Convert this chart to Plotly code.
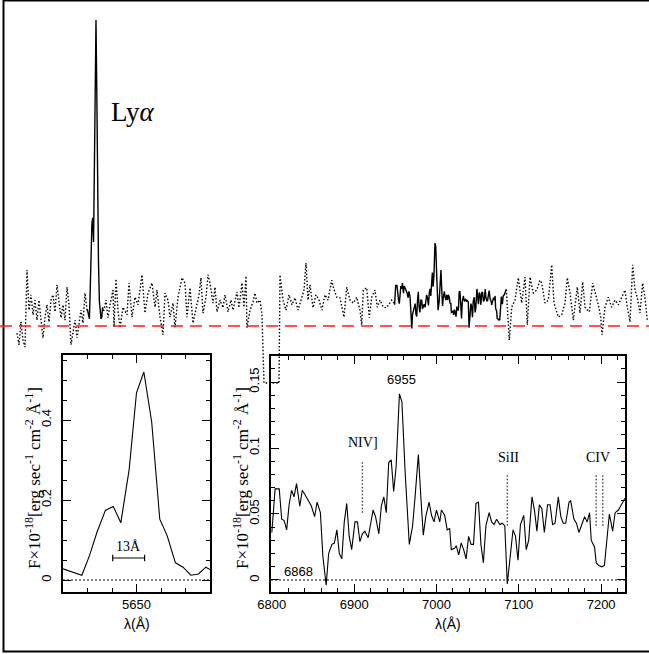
import plotly.graph_objects as go

# ---------------- data ----------------
# Full spectrum (dotted parts), wavelength [A] and flux [1e-18 erg/s/cm2/A]
blue_wl = [5349.6, 5357.3, 5365.0, 5372.6, 5380.3, 5388.0, 5395.7, 5403.4, 5411.1, 5418.7,
           5426.4, 5434.1, 5441.8, 5449.5, 5457.1, 5464.8, 5472.5, 5480.2, 5487.9, 5495.6,
           5503.2, 5510.9, 5518.6, 5526.3, 5534.0, 5541.6, 5549.3, 5557.0, 5564.7, 5572.4,
           5580.1, 5587.7, 5595.4, 5603.1, 5610.8, 5618.5]
blue_fx = [-0.012, -0.032, 0.007, -0.024, -0.036, 0.095, 0.027, 0.053, 0.019, 0.044,
           0.010, 0.044, 0.010, -0.020, 0.014, 0.036, 0.007, 0.044, 0.053, 0.024,
           0.070, 0.044, 0.014, 0.036, 0.010, 0.066, 0.036, -0.032, -0.007, 0.010,
           -0.020, 0.007, 0.027, 0.005, 0.056, 0.027]

mid_wl = [5683.8, 5691.4, 5699.1, 5706.8, 5718.3, 5722.2, 5729.9, 5737.5, 5745.2, 5756.7,
          5772.1, 5779.8, 5791.3, 5802.8, 5814.4, 5829.7, 5841.2, 5852.8, 5868.1, 5879.7,
          5887.3, 5898.9, 5910.4, 5918.0, 5929.6, 5937.3, 5948.8, 5956.5, 5968.0, 5983.4,
          5994.9, 6002.6, 6014.1, 6025.6, 6041.0, 6048.7, 6056.3, 6064.0, 6075.5, 6083.2,
          6090.9, 6102.4, 6110.1, 6117.8, 6129.3, 6140.8, 6148.5, 6160.0, 6171.6, 6179.2,
          6194.6, 6202.3, 6213.8, 6221.5, 6229.2, 6233.0, 6244.6, 6256.1, 6263.8, 6271.4,
          6283.0, 6290.6, 6298.3, 6321.4, 6355.9, 6359.8, 6371.3, 6382.9, 6394.4, 6405.9,
          6417.4, 6429.0, 6440.5, 6452.0, 6459.6, 6467.3, 6475.0, 6486.5, 6498.1, 6509.6,
          6521.1, 6532.6, 6544.2, 6558.3, 6564.5, 6577.6, 6590.2, 6605.6, 6615.9, 6628.7,
          6641.3, 6654.4, 6667.1, 6673.6, 6679.8, 6692.8, 6702.8, 6712.0, 6724.7, 6733.5,
          6743.9, 6756.5, 6769.6, 6788.8, 6797.7]
mid_fx = [0.027, 0.044, 0.014, 0.036, 0.061, -0.002, 0.080, 0.027, -0.003, 0.032,
          0.019, 0.073, 0.015, 0.049, 0.036, 0.087, 0.022, 0.056, 0.073, 0.032,
          0.061, 0.015, -0.015, 0.056, 0.044, 0.015, 0.039, -0.002, 0.049, 0.082,
          0.073, 0.015, 0.065, 0.005, 0.039, 0.053, 0.082, 0.022, 0.049, 0.087,
          0.073, 0.039, 0.066, 0.024, 0.044, 0.031, 0.053, 0.024, 0.044, 0.027,
          0.058, 0.031, 0.073, 0.032, 0.085, -0.003, 0.027, 0.041, 0.056, 0.039,
          0.044, 0.019, -0.097, -0.097, -0.097, 0.087, 0.044, 0.027, 0.053, 0.036,
          0.048, 0.027, 0.044, 0.061, 0.107, 0.044, 0.070, 0.031, 0.053, 0.044,
          0.027, 0.053, 0.044, 0.078, 0.066, 0.049, 0.048, 0.015, 0.066, 0.044,
          0.039, 0.049, 0.027, 0.002, 0.061, 0.065, 0.014, 0.049, 0.061, 0.032,
          0.044, 0.032, 0.031, 0.044, 0.039]

red_wl = [7236.7, 7240.5, 7249.7, 7262.4, 7275.1, 7288.1, 7300.8, 7309.7, 7320.0, 7332.8,
          7345.8, 7358.4, 7365.0, 7377.6, 7390.4, 7403.4, 7412.2, 7428.8, 7441.8, 7454.5,
          7463.3, 7473.7, 7486.4, 7501.7, 7512.1, 7522.4, 7531.3, 7547.8, 7560.8, 7569.7,
          7582.4, 7591.6, 7596.6, 7608.1, 7620.8, 7633.8, 7646.5, 7659.2, 7672.2, 7684.9,
          7693.7, 7704.1, 7714.4, 7723.3, 7732.1, 7742.5, 7752.8, 7761.7, 7770.5]
red_fx = [-0.007, -0.024, 0.032, 0.044, 0.082, 0.039, 0.083, 0.002, 0.083, 0.056,
          0.061, 0.078, 0.073, 0.039, 0.044, 0.104, 0.039, 0.015, 0.019, 0.039,
          0.082, 0.056, 0.010, 0.066, 0.022, 0.075, 0.032, 0.024, 0.073, 0.058,
          0.036, 0.015, -0.015, 0.032, 0.049, 0.032, 0.044, 0.036, 0.049, 0.061,
          0.032, 0.007, 0.104, 0.061, 0.049, 0.022, 0.073, 0.048, 0.010]

# Ly-alpha region (left inset, also solid in top panel)
lya_wl = [5620.0, 5627.7, 5630.8, 5633.9, 5637.3, 5640.5, 5643.6, 5647.0, 5650.0, 5653.0,
          5656.2, 5659.5, 5662.5, 5665.9, 5669.0, 5672.2, 5675.3, 5678.3, 5680.0]
lya_fx = [0.028, 0.012, 0.061, 0.120, 0.174, 0.184, 0.143, 0.276, 0.468, 0.520,
          0.395, 0.152, 0.111, 0.043, 0.032, 0.012, 0.015, 0.032, 0.026]

# 6800-7230 A region (right inset, also solid in top panel)
civ_wl = [6800, 6804, 6809, 6812, 6815, 6818, 6821, 6824, 6827, 6830,
          6834, 6837, 6840, 6844, 6848, 6852, 6855, 6859, 6862, 6866,
          6869, 6873, 6876, 6879, 6882, 6885, 6888, 6891, 6894, 6897,
          6901, 6904, 6907, 6910, 6913, 6917, 6920, 6923, 6926, 6930,
          6933, 6936, 6939, 6942, 6945, 6948, 6951, 6955, 6958, 6962,
          6967, 6971, 6974, 6978, 6981, 6984, 6987, 6991, 6994, 6997,
          7000, 7004, 7006, 7010, 7013, 7016, 7018, 7022, 7024, 7027,
          7030, 7033, 7036, 7039, 7042, 7045, 7048, 7051, 7054, 7057,
          7060, 7064, 7067, 7070, 7073, 7077, 7080, 7083, 7086, 7090,
          7093, 7096, 7099, 7102, 7106, 7109, 7112, 7116, 7119, 7122,
          7125, 7128, 7131, 7135, 7138, 7141, 7144, 7148, 7151, 7154,
          7157, 7161, 7163, 7167, 7170, 7173, 7176, 7180, 7183, 7186,
          7188, 7192, 7194, 7197, 7201, 7204, 7206, 7210, 7214, 7217,
          7221, 7226, 7229]
civ_fx = [0.036, 0.069, 0.069, 0.046, 0.045, 0.038, 0.057, 0.068, 0.063, 0.073,
          0.056, 0.068, 0.065, 0.061, 0.056, 0.048, 0.059, 0.051, 0.018, -0.004,
          0.020, 0.027, 0.028, 0.038, 0.020, 0.016, 0.044, 0.058, 0.033, 0.023,
          0.044, 0.044, 0.029, 0.035, 0.037, 0.032, 0.044, 0.053, 0.048, 0.035,
          0.056, 0.063, 0.051, 0.089, 0.091, 0.067, 0.086, 0.141, 0.135, 0.081,
          0.027, 0.041, 0.063, 0.095, 0.063, 0.034, 0.048, 0.059, 0.049, 0.044,
          0.053, 0.044, 0.053, 0.049, 0.038, 0.039, 0.023, 0.024, 0.026, 0.019,
          0.028, 0.023, 0.016, 0.033, 0.027, 0.027, 0.058, 0.059, 0.027, 0.013,
          0.041, 0.051, 0.044, 0.042, 0.046, 0.042, 0.043, 0.041, -0.003, 0.018,
          0.038, 0.033, 0.015, 0.042, 0.049, 0.023, 0.030, 0.063, 0.053, 0.037,
          0.057, 0.054, 0.036, 0.057, 0.057, 0.042, 0.043, 0.063, 0.048, 0.043,
          0.043, 0.059, 0.060, 0.046, 0.043, 0.036, 0.041, 0.048, 0.044, 0.051,
          0.030, 0.025, 0.013, 0.011, 0.010, 0.011, 0.024, 0.050, 0.037, 0.051,
          0.053, 0.059, 0.062]

# line identifications in right inset
line_names = ["NIV]", "SiII", "CIV"]
line_wl = [[6910], [7086], [7194, 7202]]
line_lo = [0.051, 0.041, 0.041]
line_hi = [0.090, 0.080, 0.080]
label_wl = [6911, 7087, 7196]
label_fx = [0.104, 0.093, 0.093]

BAR_START = 5640.3
BAR_LEN = 13.0
BAR_FX = 0.055

W, H = 649, 654

def px(x):
    return x / W

def py(y):
    return 1 - y / H

# ---------------- figure ----------------
fig = go.Figure()

dot_x = blue_wl + [lya_wl[0], None, lya_wl[-1]] + mid_wl + [civ_wl[0], None, civ_wl[-1]] + red_wl
dot_y = blue_fx + [lya_fx[0], None, lya_fx[-1]] + mid_fx + [civ_fx[0], None, civ_fx[-1]] + red_fx
fig.add_trace(go.Scatter(x=dot_x, y=dot_y, mode="lines", xaxis="x", yaxis="y",
                         line=dict(color="black", width=1.4, dash="1.5px,2px"),
                         connectgaps=False, hoverinfo="skip"))
fig.add_trace(go.Scatter(x=lya_wl, y=lya_fx, mode="lines", xaxis="x", yaxis="y",
                         line=dict(color="black", width=1.4), hoverinfo="skip"))
fig.add_trace(go.Scatter(x=civ_wl, y=civ_fx, mode="lines", xaxis="x", yaxis="y",
                         line=dict(color="black", width=1.4), hoverinfo="skip"))

fig.add_trace(go.Scatter(x=lya_wl, y=lya_fx, mode="lines", xaxis="x2", yaxis="y2",
                         line=dict(color="black", width=1.1), hoverinfo="skip"))
fig.add_trace(go.Scatter(x=civ_wl, y=civ_fx, mode="lines", xaxis="x3", yaxis="y3",
                         line=dict(color="black", width=1.1), hoverinfo="skip"))

for wls, lo, hi in zip(line_wl, line_lo, line_hi):
    for w in wls:
        fig.add_trace(go.Scatter(x=[w, w], y=[lo, hi], mode="lines", xaxis="x3", yaxis="y3",
                                 line=dict(color="#444", width=1.4, dash="1.5px,2px"),
                                 hoverinfo="skip"))

bar_x = [BAR_START, BAR_START + BAR_LEN]
fig.add_trace(go.Scatter(x=bar_x, y=[BAR_FX, BAR_FX], mode="lines", xaxis="x2", yaxis="y2",
                         line=dict(color="black", width=1.2), hoverinfo="skip"))
for bx in bar_x:
    fig.add_trace(go.Scatter(x=[bx, bx], y=[BAR_FX - 0.008, BAR_FX + 0.008], mode="lines",
                             xaxis="x2", yaxis="y2", line=dict(color="black", width=1.2),
                             hoverinfo="skip"))

tickfont = dict(family="Liberation Sans", size=13, color="black")
serif = "Liberation Serif"

hidden = dict(visible=False, showgrid=False, zeroline=False, automargin=False)

common_inset = dict(showline=True, linecolor="black", linewidth=1.6, mirror="ticks",
                    ticks="inside", ticklen=8, tickwidth=1.2, tickcolor="black",
                    showgrid=False, zeroline=False, tickfont=tickfont, automargin=False)

fig.update_layout(
    width=W, height=H, autosize=False,
    margin=dict(l=0, r=0, t=0, b=0, pad=0, autoexpand=False),
    paper_bgcolor="white", plot_bgcolor="rgba(0,0,0,0)",
    showlegend=False,
    xaxis=dict(domain=[0, 1], range=[5284.3, 7777.1], anchor="y", **hidden),
    yaxis=dict(domain=[0, 1], range=[-0.5576, 0.5542], anchor="x", **hidden),
    xaxis2=dict(domain=[px(63), px(210)], range=[5620, 5680], anchor="y2",
                tickvals=[5650], ticktext=["5650"],
                minor=dict(ticks="inside", ticklen=4, tickvals=[5630, 5640, 5660, 5670],
                           tickcolor="black", showgrid=False),
                **common_inset),
    yaxis2=dict(domain=[py(592), py(355)], range=[-0.03, 0.5625], anchor="x2",
                tickvals=[0, 0.2, 0.4], ticktext=["0", "0.2", "0.4"], tickangle=-90,
                ticklabelstandoff=5,
                minor=dict(ticks="inside", ticklen=4, dtick=0.05, tick0=0,
                           tickcolor="black", showgrid=False),
                **common_inset),
    xaxis3=dict(domain=[px(271), px(625)], range=[6799, 7229], anchor="y3",
                tickvals=[6800, 6900, 7000, 7100, 7200],
                ticktext=["6800", "6900", "7000", "7100", "7200"],
                minor=dict(ticks="inside", ticklen=4, dtick=20, tick0=6800,
                           tickcolor="black", showgrid=False),
                **common_inset),
    yaxis3=dict(domain=[py(592), py(356)], range=[-0.0091, 0.1697], anchor="x3",
                tickvals=[0, 0.05, 0.1, 0.15], ticktext=["0", "0.05", "0.1", "0.15"],
                tickangle=-90, ticklabelstandoff=5,
                minor=dict(ticks="inside", ticklen=4, dtick=0.01, tick0=0,
                           tickcolor="black", showgrid=False),
                **common_inset),
)

shapes = [
    dict(type="rect", xref="paper", yref="paper", x0=px(3.5), x1=1.02, y0=py(651.5), y1=py(0.5),
         line=dict(color="black", width=2), fillcolor="rgba(0,0,0,0)", layer="above"),
    dict(type="line", xref="paper", yref="y", x0=0, x1=1, y0=0, y1=0,
         line=dict(color="#ff1a1a", width=1.5, dash="12px,7px")),
    dict(type="line", xref="x2 domain", yref="y2", x0=0, x1=1, y0=0, y1=0,
         line=dict(color="black", width=1, dash="2px,2px")),
    dict(type="line", xref="x3 domain", yref="y3", x0=0, x1=1, y0=0, y1=0,
         line=dict(color="black", width=1, dash="2px,2px")),
]
fig.update_layout(shapes=shapes)

ann = [
    dict(text="Ly<i>α</i>", x=5703, y=0.364, xref="x", yref="y", xanchor="left",
         yanchor="middle", showarrow=False, font=dict(family=serif, size=27, color="black")),
    dict(text="13Å", x=BAR_START + BAR_LEN / 2, y=BAR_FX + 0.03, xref="x2", yref="y2",
         xanchor="center", yanchor="middle",
         showarrow=False, font=dict(family=serif, size=14, color="black")),
    dict(text="6955", x=6958, y=0.152, xref="x3", yref="y3", showarrow=False,
         xanchor="center", yanchor="middle",
         font=dict(family="Liberation Sans", size=13, color="black")),
    dict(text="6868", x=6832, y=0.0065, xref="x3", yref="y3", showarrow=False,
         xanchor="center", yanchor="middle",
         font=dict(family="Liberation Sans", size=13, color="black")),
]
for name, lx, ly in zip(line_names, label_wl, label_fx):
    ann.append(dict(text=name, x=lx, y=ly, xref="x3", yref="y3", showarrow=False,
                    xanchor="center", yanchor="middle",
                    font=dict(family=serif, size=14, color="black")))

ytitle = "F×10<sup>-18</sup>[erg sec<sup>-1</sup> cm<sup>-2</sup> Å<sup>-1</sup>]"
for xpix in (33, 241):
    ann.append(dict(text=ytitle, x=px(xpix), y=py(478), xref="paper", yref="paper",
                    textangle=-90, showarrow=False, xanchor="center", yanchor="middle",
                    font=dict(family=serif, size=17, color="black")))
for xpix in (137, 448):
    ann.append(dict(text="λ(Å)", x=px(xpix), y=py(624), xref="paper", yref="paper",
                    xanchor="center", yanchor="middle",
                    showarrow=False, font=dict(family="Liberation Sans", size=14, color="black")))
fig.update_layout(annotations=ann)

post = ("document.body.style.margin='0';document.body.style.padding='0';"
        "document.body.style.overflow='hidden';"
        "var gd=document.getElementsByClassName('plotly-graph-div')[0];"
        "gd.style.width='649px';gd.style.height='654px';")
fig.write_html("out.html", config={"responsive": False, "displayModeBar": False},
               post_script=post)
